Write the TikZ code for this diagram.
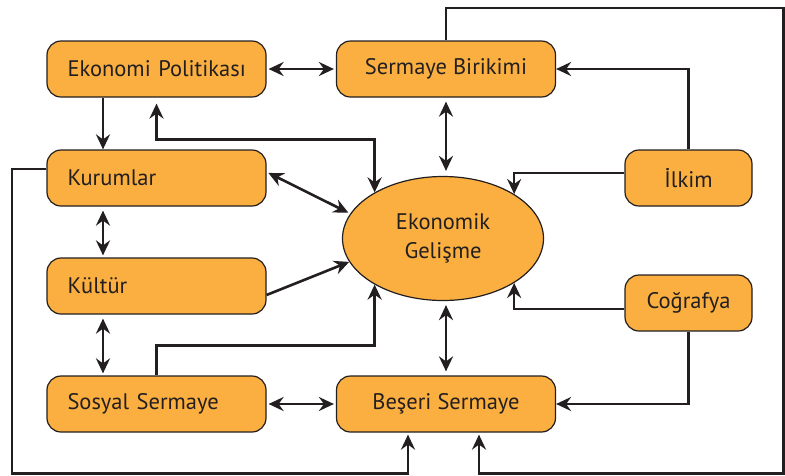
\documentclass[tikz,border=0pt]{standalone}
\usepackage{fontspec}
\setmainfont{PT Sans}
\usepackage{tikz}
\usetikzlibrary{shapes.geometric, arrows.meta, positioning, calc}
\usepackage{xcolor}
\definecolor{boxfill}{RGB}{250,175,64}
\definecolor{edge}{RGB}{35,31,32}

\begin{document}
\begin{tikzpicture}[
    x=1pt, y=-1pt,
    font=\fontsize{22.5}{29}\selectfont,
    % Node styles
    factor/.style={rectangle, draw=edge, line width=1.2pt, rounded corners=14pt, fill=boxfill, minimum width=219pt, minimum height=56pt, inner xsep=0pt, text=edge},
    leftfactor/.style={factor, text width=182pt, align=left, inner xsep=18.5pt},
    smallfactor/.style={factor, minimum width=127pt},
    goal/.style={ellipse, draw=edge, line width=1.2pt, fill=boxfill, minimum width=201pt, minimum height=124pt, align=center, inner sep=0pt, text=edge},
    arrow/.style={-{Stealth[length=15pt, width=14pt, inset=5pt]}, line width=2.6pt, draw=edge},
    both/.style={arrow, {Stealth[length=15pt, width=14pt, inset=5pt]}-{Stealth[length=15pt, width=14pt, inset=5pt]}},
]
\useasboundingbox (0,0) rectangle (785,475);

% ============================================================================
% FACTORS
% ============================================================================
\node[leftfactor] (politika) at (156.5, 69) {\hspace{2pt}Ekonomi Politikası};
\node[factor] (birikim) at (446, 69) {Sermaye Birikimi};
\node[leftfactor] (kurum) at (156.5, 178) {\hspace{2pt}Kurumlar};
\node[leftfactor] (kultur) at (156.5, 286) {\hspace{2pt}Kültür};
\node[leftfactor] (sosyal) at (156.5, 404) {\hspace{2pt}Sosyal Sermaye};
\node[factor] (beseri) at (446, 404) {Beşeri Sermaye};
\node[smallfactor] (ilkim) at (688.5, 178) {İlkim};
\node[smallfactor] (cografya) at (688.5, 303) {Coğrafya};

% Economic development (centre)
\node[goal] (gelisme) at (443, 238.5) {Ekonomik\\Gelişme};

% Helper points for the outer loops
\coordinate (lcol) at (103, 0);
\coordinate (ne) at (783.5, 8);
\coordinate (se) at (783.5, 473.5);
\coordinate (sw) at (12, 473.5);

% ============================================================================
% CONNECTORS
% ============================================================================
% Top row
\draw[both, shorten <=2pt, shorten >=2pt] (politika.east) -- (birikim.west);
\draw[arrow] (politika.south -| lcol) -- (kurum.north -| lcol);
\draw[both, shorten <=6pt] (politika.south) -- ++(0,42) -| (gelisme.146);
\draw[both, shorten <=4pt, shorten >=5pt] (birikim.south) -- (birikim.south |- gelisme.north);

% Left column
\draw[both, shorten <=2pt, shorten >=2pt] ([yshift=6pt]kurum.east) -- (gelisme.165);
\draw[both, shorten <=4pt, shorten >=2pt] (kurum.south -| lcol) -- (kultur.north -| lcol);
\draw[arrow] ([yshift=-9pt]kultur.east) -- (gelisme.194);
\draw[both, shorten <=4pt, shorten >=2pt] (kultur.south -| lcol) -- (sosyal.north -| lcol);
\draw[arrow] (sosyal.north) -- ++(0,-30) -| (gelisme.214);

% Bottom row
\draw[both, shorten <=2pt, shorten >=2pt] (sosyal.east) -- (beseri.west);
\draw[both, shorten <=4pt, shorten >=4pt] (beseri.north |- gelisme.south) -- (beseri.north);

% Right column
\draw[arrow] (ilkim.north) |- (birikim.east);
\draw[arrow] ([yshift=5pt]ilkim.west) -| (gelisme.32);
\draw[arrow] ([yshift=-6pt]cografya.west) -| (gelisme.328);
\draw[arrow] (cografya.south) |- (beseri.east);

% Outer loops into Beseri Sermaye
\draw[arrow, shorten >=2pt] (birikim.north) |- (ne) -- (se) -| ([xshift=33pt]beseri.south);
\draw[arrow, shorten >=2pt] ([yshift=9pt]kurum.west) -| (sw) -| ([xshift=-38pt]beseri.south);

\end{tikzpicture}
\end{document}
